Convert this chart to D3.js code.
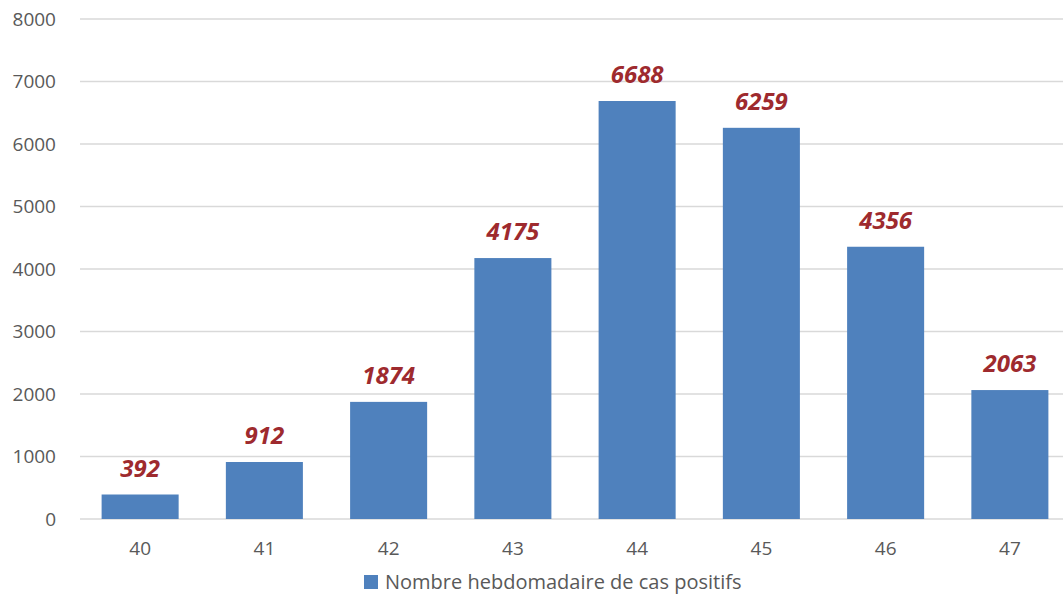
<!DOCTYPE html>
<html><head><meta charset="utf-8">
<script src="https://cdn.jsdelivr.net/npm/d3@7"></script>
<style>body{margin:0;background:#fff}svg{display:block}</style>
</head><body>
<script>
const weeks = ["40","41","42","43","44","45","46","47"];
const cases = [392, 912, 1874, 4175, 6688, 6259, 4356, 2063];
const yTicks = [0,1000,2000,3000,4000,5000,6000,7000,8000];
const seriesName = "Nombre hebdomadaire de cas positifs";

const W = 1063, H = 595;
const svg = d3.select("body").append("svg").attr("width", W).attr("height", H);
const font = "'Open Sans', 'Liberation Sans', sans-serif";

const x = d3.scaleBand().domain(weeks).range([78, 1072]).paddingInner(0.38).paddingOuter(0.19);
const y = d3.scaleLinear().domain([0, 8000]).range([519, 19]);

// gridlines
svg.append("g").selectAll("line").data(yTicks).join("line")
  .attr("x1", 80).attr("x2", W)
  .attr("y1", d => y(d)).attr("y2", d => y(d))
  .attr("stroke", "#d9d9d9").attr("stroke-width", 1.5);

// y axis labels
const yAxis = d3.axisLeft(y).tickValues(yTicks).tickFormat(d3.format("d")).tickSize(0).tickPadding(0);
const gy = svg.append("g").attr("transform", "translate(56,0)").call(yAxis);
gy.select(".domain").remove();
gy.selectAll("text").attr("font-family", font).attr("font-size", 19).attr("fill", "#595959");

// x axis labels
const xAxis = d3.axisBottom(x).tickSize(0).tickPadding(0);
const gx = svg.append("g").attr("transform", "translate(0,541)").call(xAxis);
gx.select(".domain").remove();
gx.selectAll("text").attr("font-family", font).attr("font-size", 19).attr("fill", "#595959");

// bars
svg.append("g").selectAll("rect").data(weeks).join("rect")
  .attr("x", d => x(d)).attr("width", x.bandwidth())
  .attr("y", (d,i) => y(cases[i])).attr("height", (d,i) => y(0) - y(cases[i]))
  .attr("fill", "#4F81BD");

// value labels
svg.append("g").selectAll("text").data(weeks).join("text")
  .attr("x", d => x(d) + x.bandwidth()/2)
  .attr("y", (d,i) => y(cases[i]) - 18)
  .attr("text-anchor", "middle")
  .attr("font-family", font).attr("font-size", 24)
  .attr("font-weight", "bold").attr("font-style", "italic")
  .attr("fill", "#9E2A2E")
  .text((d,i) => cases[i]);

// legend
const lg = svg.append("g");
lg.append("rect").attr("x", 364).attr("y", 575).attr("width", 14).attr("height", 14).attr("fill", "#4F81BD");
lg.append("text").attr("x", 385).attr("y", 589).attr("font-family", font).attr("font-size", 20)
  .attr("fill", "#595959").text(seriesName);
</script>
</body></html>
